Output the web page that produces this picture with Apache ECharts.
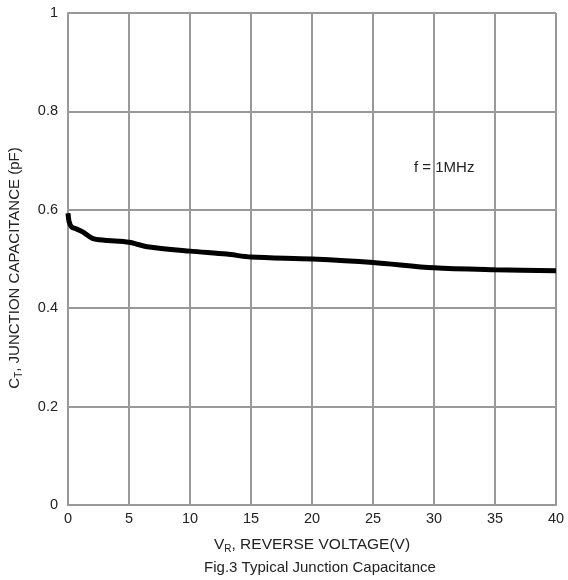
<!DOCTYPE html>
<html>
<head>
<meta charset="utf-8">
<script src="https://cdn.jsdelivr.net/npm/echarts@6/dist/echarts.min.js"></script>
<style>html,body{margin:0;padding:0;background:#fff}#c{width:568px;height:580px}</style>
</head>
<body>
<div id="c"></div>
<script>
const voltage = [0, 0.1, 0.3, 0.6, 1.2, 2.0, 3.0, 5.0, 6.5, 10, 13, 15, 20, 25, 30, 35, 40];
const capacitance = [0.593, 0.575, 0.565, 0.562, 0.555, 0.542, 0.538, 0.534, 0.525, 0.516, 0.510, 0.504, 0.500, 0.493, 0.482, 0.478, 0.476];
const xTicks = [0, 5, 10, 15, 20, 25, 30, 35, 40];
const yTicks = [0, 0.2, 0.4, 0.6, 0.8, 1];

const chart = echarts.init(document.getElementById('c'), null, {renderer: 'canvas'});
const font = 'Liberation Sans, Arial, sans-serif';
const txt = '#222';
const richSub = (size) => ({
  n: {fontSize: size, fontFamily: font, color: txt, fill: txt, lineHeight: 20},
  s: {fontSize: Math.round(size * 0.65), fontFamily: font, color: txt, fill: txt, lineHeight: 20, padding: [9, 0, 0, 0]}
});
chart.setOption({
  animation: false,
  backgroundColor: '#fff',
  grid: {left: 68, right: 12, top: 13, bottom: 75, containLabel: false, outerBoundsMode: 'none'},
  xAxis: {
    type: 'value', min: 0, max: 40, interval: 5,
    axisLine: {show: true, lineStyle: {color: '#999', width: 2}},
    axisTick: {show: false},
    splitLine: {show: true, lineStyle: {color: '#999', width: 2}},
    axisLabel: {color: txt, fontSize: 14.5, fontFamily: font, margin: 6},
    name: '{n|V}{s|R}{n|, REVERSE VOLTAGE(V)}',
    nameLocation: 'middle', nameGap: 30,
    nameTextStyle: {rich: richSub(15.5)}
  },
  yAxis: {
    type: 'value', min: 0, max: 1, interval: 0.2,
    axisLine: {show: true, lineStyle: {color: '#999', width: 2}},
    axisTick: {show: false},
    splitLine: {show: true, lineStyle: {color: '#999', width: 2}},
    axisLabel: {color: txt, fontSize: 14.5, fontFamily: font, margin: 10,
      formatter: v => (Math.round(v * 10) / 10).toString()}
  },
  series: [{
    type: 'line', data: voltage.map((v, i) => [v, capacitance[i]]),
    smooth: 0.3, showSymbol: false,
    lineStyle: {color: '#000', width: 5}
  }],
  graphic: [
    {type: 'text', x: 15, y: 268, rotation: Math.PI / 2,
      style: {text: '{n|C}{s|T}{n|, JUNCTION CAPACITANCE (pF)}', rich: richSub(15), align: 'center', verticalAlign: 'middle'}},
    {type: 'text', x: 414, y: 168, style: {text: 'f = 1MHz', fontSize: 15, fontFamily: font, fill: txt, verticalAlign: 'middle'}},
    {type: 'text', x: 320, y: 568, style: {text: 'Fig.3 Typical Junction Capacitance', fontSize: 15, fontFamily: font, fill: txt, align: 'center', verticalAlign: 'middle'}}
  ]
});
</script>
</body>
</html>
